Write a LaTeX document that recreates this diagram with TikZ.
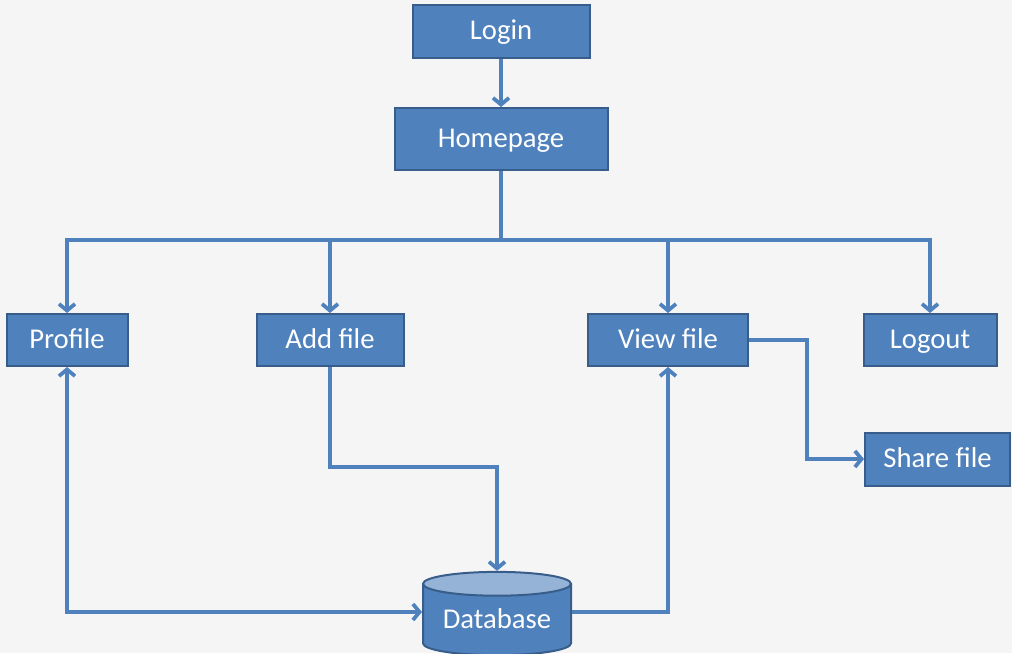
\documentclass[tikz,border=0pt]{standalone}
\usepackage{fontspec}
\setmainfont{Carlito}
\usepackage{xcolor}
\usetikzlibrary{arrows.meta,shapes.geometric}

\definecolor{boxblue}{RGB}{79,129,189}
\definecolor{boxedge}{RGB}{56,93,138}
\definecolor{dbtop}{RGB}{149,179,215}
\definecolor{paper}{RGB}{245,245,245}

\tikzset{
    box/.style={draw=boxedge, line width=1.5pt, fill=boxblue, text=white,
        font=\fontsize{21.5}{24}\selectfont, inner sep=0pt, minimum height=39.75pt,
        text height=16pt, text depth=3.2pt},
    barb/.tip={Straight Barb[length=5pt,width=12pt]},
    link/.style={draw=boxblue, line width=2.8pt, -barb},
}

\begin{document}
\begin{tikzpicture}[x=0.75pt,y=0.75pt,yscale=-1,xscale=1]
        \fill[paper] (0,0) rectangle (1012,653);
        \useasboundingbox (0,0) rectangle (1012,653);

        % boxes
        \node[box, minimum width=132.75pt] (login) at (501,31) {Login};
        \node[box, minimum width=159.75pt, minimum height=46.5pt] (home) at (501,139) {Homepage};
        \node[box, minimum width=90.75pt, minimum height=39pt] (profile) at (67,340) {Profile};
        \node[box, minimum width=110.25pt, minimum height=39pt] (addfile) at (330,340) {Add file};
        \node[box, minimum width=120pt, minimum height=39pt] (viewfile) at (668,340) {View file};
        \node[box, minimum width=99.75pt, minimum height=39pt] (logout) at (930,340) {Logout};
        \node[box, minimum width=108.75pt] (share) at (937.5,459) {Share file};

        % database
        \node[cylinder, shape border rotate=90, aspect=0.22, draw=boxedge, line width=1.5pt,
            cylinder uses custom fill, cylinder body fill=boxblue, cylinder end fill=dbtop,
            text=white, font=\fontsize{21.5}{24}\selectfont, inner sep=0pt,
            text height=15.2pt, text depth=3.2pt,
            minimum width=111pt, minimum height=62.5pt] (db) at (497,620) {Database};

        \coordinate (bus) at (501,240);

        \draw[link] (login) -- (home);
        \draw[link, -] (home) -- (bus);
        \foreach \n in {profile,addfile,viewfile,logout}
            \draw[link] (bus) -| (\n.north);

        \draw[link] (viewfile.east) -- ++(58,0) |- (share.west);
        \draw[link] (addfile.south) -- ++(0,100) -| (db.north);
        \draw[link, barb-barb] (profile.south) |- ([yshift=-6pt]db.west);
        \draw[link] ([yshift=-6pt]db.east) -| (viewfile.south);
\end{tikzpicture}
\end{document}
